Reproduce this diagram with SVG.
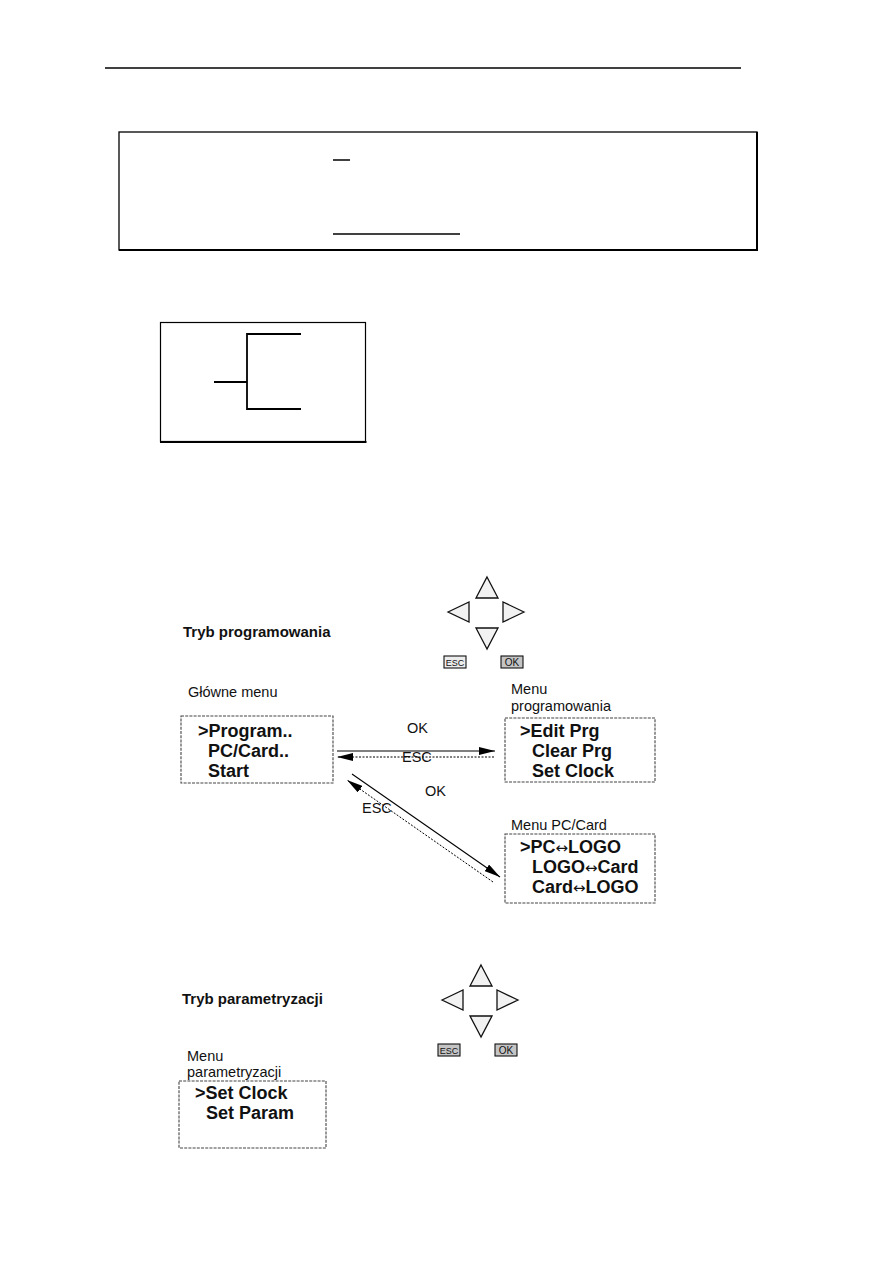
<svg xmlns="http://www.w3.org/2000/svg" width="893" height="1263" viewBox="0 0 893 1263">
<style>
.t{font-family:"Liberation Sans","DejaVu Sans",Arial,sans-serif;fill:#111}
.lbl{font-size:14.5px}
.ttl{font-size:15px;font-weight:bold}
.item{font-size:18px;font-weight:bold}
.arr{font-family:"DejaVu Sans",sans-serif;font-weight:normal;font-size:15px}
.menu{fill:#fff;stroke:#444;stroke-width:1.1;stroke-dasharray:3 1.2}
.key{fill:#f2f2f2;stroke:#111;stroke-width:1.3;stroke-linejoin:miter}
.btn{stroke:#111;stroke-width:1.1}
.btxt{font-family:"Liberation Sans","DejaVu Sans",Arial,sans-serif;font-size:9px;fill:#111;text-anchor:middle}
.ln{stroke:#000;fill:none}
</style>
<defs>
<marker id="ah" viewBox="0 0 16 8" refX="16" refY="4" markerWidth="16" markerHeight="8" markerUnits="userSpaceOnUse" orient="auto">
<path d="M0,0 L16,4 L0,8 Z" fill="#000"/>
</marker>
<g id="pad">
<polygon class="key" points="487,577 498,598 476,598"/>
<polygon class="key" points="448,612 469,602 469,622"/>
<polygon class="key" points="524,612 503,602 503,622"/>
<polygon class="key" points="487,649 476,628 498,628"/>
</g>
</defs>
<rect width="893" height="1263" fill="#fff"/>

<g id="page-rule">
<line class="ln" x1="105" y1="68" x2="741" y2="68" stroke-width="1.3"/>
</g>

<g id="top-box">
<rect x="119" y="132" width="638" height="118" fill="none" stroke="#000" stroke-width="1.3"/>
<line class="ln" x1="757" y1="132" x2="757" y2="251" stroke-width="2"/>
<line class="ln" x1="119" y1="250" x2="758" y2="250" stroke-width="1.8"/>
<line class="ln" x1="333" y1="160" x2="350" y2="160" stroke-width="1.5"/>
<line class="ln" x1="333" y1="234" x2="460" y2="234" stroke-width="1.5"/>
</g>

<g id="bracket-box">
<rect x="160.5" y="322.5" width="205" height="119" fill="none" stroke="#000" stroke-width="1.2"/>
<line class="ln" x1="160" y1="442" x2="366.5" y2="442" stroke-width="2"/>
<path class="ln" d="M301,334 H247 V409 H301" stroke-width="1.8"/>
<line class="ln" x1="214" y1="382" x2="247" y2="382" stroke-width="2"/>
</g>

<g id="mode-programming">
<text class="t ttl" x="183" y="637">Tryb programowania</text>
</g>

<g id="keypad-top">
<use href="#pad"/>
<rect class="btn" x="444" y="656" width="22" height="12" fill="#ececec"/>
<text class="btxt" x="455" y="665.5">ESC</text>
<rect class="btn" x="501" y="656" width="22" height="12" fill="#c4c4c4"/>
<text class="btxt" x="512" y="666" style="font-size:10px">OK</text>
</g>

<g id="main-menu">
<text class="t lbl" x="188" y="697">Główne menu</text>
<rect class="menu" x="181" y="716" width="152" height="67"/>
<text class="t item" x="198" y="737">&gt;Program..</text>
<text class="t item" x="208" y="757">PC/Card..</text>
<text class="t item" x="208" y="777">Start</text>
</g>

<g id="prog-menu">
<text class="t lbl" x="511" y="694">Menu</text>
<text class="t lbl" x="511" y="711">programowania</text>
<rect class="menu" x="505" y="718" width="150" height="64"/>
<text class="t item" x="520" y="737">&gt;Edit Prg</text>
<text class="t item" x="532" y="757">Clear Prg</text>
<text class="t item" x="532" y="777">Set Clock</text>
</g>

<g id="pccard-menu">
<text class="t lbl" x="511" y="830">Menu PC/Card</text>
<rect class="menu" x="505" y="834" width="150" height="69"/>
<text class="t item" x="520" y="853">&gt;PC<tspan class="arr">↔</tspan>LOGO</text>
<text class="t item" x="532" y="873">LOGO<tspan class="arr">↔</tspan>Card</text>
<text class="t item" x="532" y="893">Card<tspan class="arr">↔</tspan>LOGO</text>
</g>

<g id="connectors">
<line class="ln" x1="337" y1="751" x2="495" y2="751" stroke-width="1.1" marker-end="url(#ah)"/>
<line class="ln" x1="494" y1="757" x2="337" y2="757" stroke-width="1" stroke-dasharray="2 1.5" marker-end="url(#ah)"/>
<line class="ln" x1="352" y1="774" x2="500" y2="877" stroke-width="1.1" marker-end="url(#ah)"/>
<line class="ln" x1="493" y1="882" x2="347" y2="780" stroke-width="1" stroke-dasharray="2 1.5" marker-end="url(#ah)"/>
<text class="t lbl" x="407" y="733">OK</text>
<text class="t lbl" x="402" y="762">ESC</text>
<text class="t lbl" x="425" y="796">OK</text>
<text class="t lbl" x="362" y="813">ESC</text>
</g>

<g id="mode-parametrization">
<text class="t ttl" x="182" y="1004">Tryb parametryzacji</text>
</g>

<g id="keypad-bottom">
<use href="#pad" transform="translate(-6,388)"/>
<rect class="btn" x="438" y="1044" width="22" height="12" fill="#c4c4c4"/>
<text class="btxt" x="449" y="1053.5">ESC</text>
<rect class="btn" x="495" y="1044" width="22" height="12" fill="#c4c4c4"/>
<text class="btxt" x="506" y="1054" style="font-size:10px">OK</text>
</g>

<g id="param-menu">
<text class="t lbl" x="187" y="1061">Menu</text>
<text class="t lbl" x="187" y="1077">parametryzacji</text>
<rect class="menu" x="179" y="1081" width="147" height="67"/>
<text class="t item" x="195" y="1099">&gt;Set Clock</text>
<text class="t item" x="206" y="1119">Set Param</text>
</g>
</svg>
